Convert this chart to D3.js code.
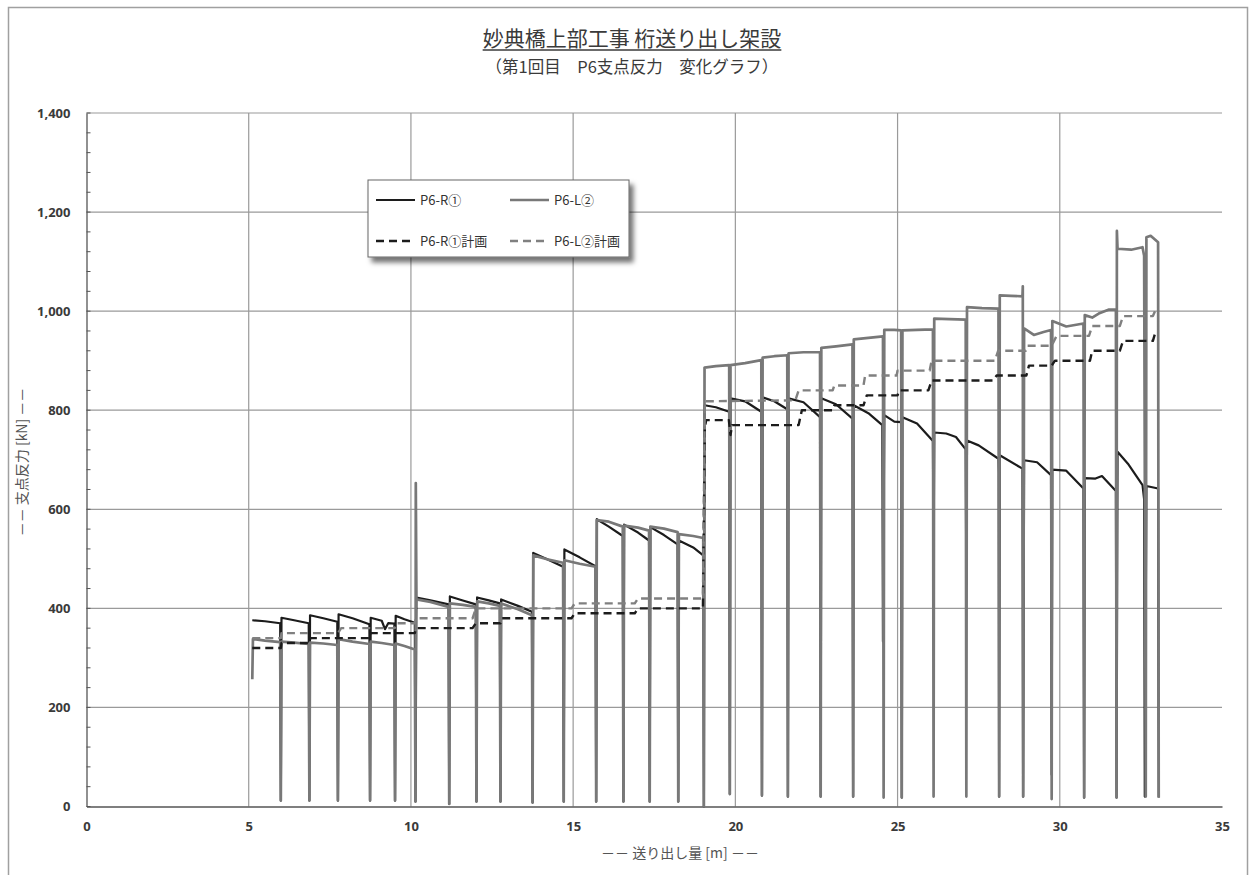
<!DOCTYPE html>
<html>
<head>
<meta charset="utf-8">
<script src="https://cdn.jsdelivr.net/npm/d3@7"></script>
<style>
  body { margin: 0; background: #fff; }
  svg { display: block; }
</style>
</head>
<body>
<svg id="svg" width="1250" height="875"></svg>
<script>
// titles / labels
const title = '妙典橋上部工事 桁送り出し架設'
const subtitle = '（第1回目　P6支点反力　変化グラフ）'
const xTitle = '－－ 送り出し量 [m] －－'
const yTitle = '－－ 支点反力 [kN] －－'
const xTicks = [0, 5, 10, 15, 20, 25, 30, 35]
const yTicks = [0, 200, 400, 600, 800, 1000, 1200, 1400]
const seriesNames = ['P6-R①', 'P6-L②', 'P6-R①計画', 'P6-L②計画']

// P6-R① measured [送り出し量 m, kN]
const r1 = [
  [5.11, 376], [5.5, 374], [5.97, 370], [5.99, 12],
  [6.01, 381], [6.4, 376], [6.85, 370], [6.87, 12],
  [6.89, 386], [7.3, 380], [7.73, 373], [7.75, 12],
  [7.77, 388], [8.2, 380], [8.72, 368], [8.74, 12],
  [8.76, 381], [9.1, 375], [9.2, 358], [9.3, 370], [9.49, 369], [9.51, 12],
  [9.53, 385], [9.8, 378], [10.12, 371], [10.14, 10],
  [10.17, 422], [10.6, 416], [11.16, 408], [11.18, 5],
  [11.2, 424], [11.6, 416], [12.0, 408], [12.02, 10],
  [12.04, 422], [12.4, 416], [12.74, 410], [12.76, 10],
  [12.78, 418], [13.3, 405], [13.73, 393], [13.75, 8],
  [13.77, 512], [14.2, 499], [14.69, 484], [14.71, 10],
  [14.73, 519], [15.2, 503], [15.69, 485], [15.71, 10],
  [15.73, 580], [16.1, 565], [16.53, 546], [16.55, 10],
  [16.57, 569], [17.0, 553], [17.34, 537], [17.36, 10],
  [17.38, 564], [17.8, 548], [18.22, 529], [18.24, 10],
  [18.26, 537], [18.7, 523], [19.01, 507], [19.03, 0],
  [19.05, 810], [19.4, 806], [19.81, 797], [19.83, 25],
  [19.85, 824], [20.3, 818], [20.8, 797], [20.82, 22],
  [20.84, 826], [21.2, 818], [21.6, 802], [21.62, 20],
  [21.64, 824], [22.1, 816], [22.61, 786], [22.63, 20],
  [22.65, 824], [23.1, 812], [23.61, 783], [23.63, 20],
  [23.65, 810], [24.1, 794], [24.53, 770], [24.55, 333],
  [24.59, 790], [24.9, 777], [25.11, 776], [25.13, 18],
  [25.15, 786], [25.6, 773], [26.09, 738], [26.11, 484],
  [26.13, 755], [26.5, 753], [26.8, 746], [27.1, 721], [27.12, 448],
  [27.14, 739], [27.5, 729], [28.11, 702], [28.12, 675], [28.13, 20],
  [28.15, 709], [28.85, 682], [28.87, 20],
  [28.9, 699], [29.3, 695], [29.73, 669], [29.75, 64],
  [29.77, 680], [30.2, 678], [30.73, 642], [30.75, 18],
  [30.77, 663], [31.1, 662], [31.3, 667], [31.73, 637], [31.75, 18],
  [31.78, 716], [32.1, 692], [32.55, 649], [32.6, 620], [32.62, 20],
  [32.67, 647], [33.03, 642], [33.05, 18]
]

// P6-L② measured
const l2 = [
  [5.11, 257], [5.13, 338], [5.5, 335], [5.97, 332], [5.99, 12],
  [6.01, 333], [6.4, 331], [6.85, 328], [6.87, 12],
  [6.89, 331], [7.3, 329], [7.73, 326], [7.75, 12],
  [7.77, 338], [8.2, 333], [8.72, 328], [8.74, 12],
  [8.76, 333], [9.1, 330], [9.49, 326], [9.51, 12],
  [9.53, 329], [9.8, 324], [10.12, 317], [10.14, 10], [10.15, 653], [10.17, 418],
  [10.6, 413], [11.16, 403], [11.18, 5],
  [11.2, 410], [11.6, 407], [12.0, 403], [12.02, 10],
  [12.04, 414], [12.4, 410], [12.74, 405], [12.76, 10],
  [12.78, 410], [13.3, 398], [13.73, 386], [13.75, 8],
  [13.77, 507], [14.2, 499], [14.69, 492], [14.71, 10],
  [14.73, 497], [15.2, 490], [15.69, 484], [15.71, 10],
  [15.73, 578], [16.1, 575], [16.53, 565], [16.55, 10],
  [16.57, 567], [17.0, 563], [17.34, 557], [17.36, 10],
  [17.38, 565], [17.8, 561], [18.22, 554], [18.24, 10],
  [18.26, 550], [18.7, 546], [19.01, 542], [19.03, 0],
  [19.05, 886], [19.4, 889], [19.81, 891], [19.83, 25],
  [19.85, 891], [20.3, 895], [20.8, 901], [20.82, 22],
  [20.84, 906], [21.2, 909], [21.6, 911], [21.62, 20],
  [21.64, 915], [22.1, 917], [22.61, 917], [22.63, 20],
  [22.65, 926], [23.1, 929], [23.61, 933], [23.63, 20],
  [23.65, 943], [24.1, 946], [24.55, 949], [24.57, 18],
  [24.59, 962], [24.9, 962], [25.11, 961], [25.13, 18],
  [25.15, 961], [25.6, 962], [26.09, 963], [26.11, 20],
  [26.13, 985], [26.6, 984], [27.1, 983], [27.12, 20],
  [27.14, 1008], [27.6, 1006], [28.11, 1005], [28.13, 20],
  [28.15, 1032], [28.5, 1031], [28.85, 1030], [28.86, 1050], [28.87, 20],
  [28.9, 965], [29.2, 952], [29.5, 958], [29.73, 962], [29.75, 15],
  [29.77, 980], [30.2, 969], [30.73, 975], [30.75, 18],
  [30.77, 992], [31.0, 987], [31.2, 995], [31.5, 1003], [31.73, 1003], [31.75, 18],
  [31.76, 1162], [31.78, 1126], [32.2, 1124], [32.55, 1129], [32.6, 1112], [32.63, 470],
  [32.65, 20], [32.67, 1149], [32.8, 1152], [33.03, 1139], [33.05, 18]
]

// P6-R① plan
const r1Plan = [
  [5.11, 320], [5.99, 320], [6.01, 330], [6.87, 330], [6.9, 340], [8.74, 340],
  [8.77, 350], [10.12, 350], [10.15, 360], [11.9, 360], [12.0, 370], [12.76, 370],
  [12.8, 380], [14.95, 380], [15.05, 390], [16.9, 390], [17.0, 400], [19.0, 400],
  [19.06, 765], [19.1, 780], [19.8, 780], [19.85, 750], [19.9, 770], [21.95, 770],
  [22.05, 800], [23.0, 800], [23.05, 810], [23.95, 810], [24.05, 830], [25.0, 830],
  [25.05, 840], [25.95, 840], [26.05, 860], [27.95, 860], [28.05, 870], [28.97, 870],
  [29.05, 890], [29.75, 890], [29.85, 900], [30.93, 900], [31.0, 920], [31.85, 920],
  [31.95, 940], [32.87, 940], [32.95, 958]
]

// P6-L② plan
const l2Plan = [
  [5.11, 340], [5.99, 340], [6.01, 350], [7.75, 350], [7.85, 360], [9.5, 360],
  [9.55, 370], [10.12, 370], [10.15, 380], [11.9, 380], [12.0, 400], [14.95, 400],
  [15.05, 410], [16.9, 410], [17.0, 420], [19.0, 420], [19.06, 818], [21.85, 820],
  [21.95, 840], [23.0, 840], [23.05, 850], [23.95, 850], [24.0, 870], [24.97, 870],
  [25.0, 880], [25.99, 880], [26.05, 900], [28.0, 900], [28.1, 920], [28.95, 920],
  [29.0, 930], [29.75, 930], [29.9, 950], [30.9, 950], [31.0, 970], [31.85, 970],
  [31.95, 990], [32.87, 990], [32.95, 1002]
]

const svg = d3.select('#svg')
const font = '"Noto Sans CJK JP", "Noto Sans", sans-serif'

// outer frame
svg.append('rect')
  .attr('x', 8.5).attr('y', 7.5).attr('width', 1239).attr('height', 880)
  .attr('fill', 'none').attr('stroke', '#a0a0a0').attr('stroke-width', 1.5)

const xScale = d3.scaleLinear().domain([0, 35]).range([86.5, 1222])
const yScale = d3.scaleLinear().domain([0, 1400]).range([806.5, 113])

// gridlines
const grid = svg.append('g')
grid.selectAll('.hg').data(yTicks.filter(d => d > 0)).enter().append('line')
  .attr('x1', xScale(0)).attr('x2', xScale(35))
  .attr('y1', d => yScale(d)).attr('y2', d => yScale(d))
  .attr('stroke', '#9a9a9a').attr('stroke-width', 1.2)
grid.selectAll('.vg').data(xTicks.filter(d => d > 0 && d < 35)).enter().append('line')
  .attr('x1', d => xScale(d)).attr('x2', d => xScale(d))
  .attr('y1', yScale(0)).attr('y2', yScale(1400))
  .attr('stroke', '#9a9a9a').attr('stroke-width', 1.2)

// axes
const yAxis = svg.append('g')
  .attr('transform', `translate(${xScale(0)},0)`)
  .call(d3.axisLeft(yScale).tickValues(yTicks).tickFormat(d3.format(',')).tickSize(0).tickPadding(16))
yAxis.select('.domain').attr('stroke', '#555').attr('stroke-width', 1.3)
yAxis.selectAll('text').attr('font-family', '"Noto Sans", sans-serif').attr('font-size', 13)
  .attr('font-weight', 'bold').attr('fill', '#3a3a3a')

// minor ticks on y axis (inside)
svg.append('g').selectAll('line').data(d3.range(0, 1401, 40)).enter().append('line')
  .attr('x1', xScale(0)).attr('x2', xScale(0) + 4)
  .attr('y1', d => yScale(d)).attr('y2', d => yScale(d))
  .attr('stroke', '#555').attr('stroke-width', 1)

const xAxis = svg.append('g')
  .attr('transform', `translate(0,${yScale(0)})`)
  .call(d3.axisBottom(xScale).tickValues(xTicks).tickSize(0).tickPadding(15))
xAxis.select('.domain').attr('stroke', '#555').attr('stroke-width', 1.3)
xAxis.selectAll('text').attr('font-family', '"Noto Sans", sans-serif').attr('font-size', 13)
  .attr('font-weight', 'bold').attr('fill', '#3a3a3a')

// series
const line = d3.line().x(d => xScale(d[0])).y(d => yScale(d[1]))
const series = [
  { data: r1, color: '#1c1c1c', width: 2.2, dash: null },
  { data: l2, color: '#787878', width: 2.7, dash: null },
  { data: r1Plan, color: '#1c1c1c', width: 2.4, dash: '8,5' },
  { data: l2Plan, color: '#808080', width: 2.4, dash: '8,5' }
]
svg.append('g').selectAll('path').data(series).enter().append('path')
  .attr('d', d => line(d.data))
  .attr('fill', 'none')
  .attr('stroke', d => d.color)
  .attr('stroke-width', d => d.width)
  .attr('stroke-dasharray', d => d.dash)
  .attr('stroke-linejoin', 'round')

// title
const t = svg.append('text')
  .attr('x', 632).attr('y', 46)
  .attr('text-anchor', 'middle')
  .attr('font-family', font).attr('font-size', 21).attr('fill', '#3a3a3a')
  .text(title)
const bb = t.node().getBBox()
svg.append('line')
  .attr('x1', bb.x).attr('x2', bb.x + bb.width)
  .attr('y1', 50).attr('y2', 50)
  .attr('stroke', '#3a3a3a').attr('stroke-width', 1.3)
svg.append('text')
  .attr('x', 632).attr('y', 73)
  .attr('text-anchor', 'middle')
  .attr('font-family', font).attr('font-size', 16.5).attr('fill', '#3a3a3a')
  .text(subtitle)

// axis titles
svg.append('text')
  .attr('x', 680).attr('y', 858)
  .attr('text-anchor', 'middle')
  .attr('font-family', font).attr('font-size', 14).attr('fill', '#555')
  .text(xTitle)
svg.append('text')
  .attr('transform', 'translate(27,462) rotate(-90)')
  .attr('text-anchor', 'middle')
  .attr('font-family', font).attr('font-size', 14).attr('fill', '#555')
  .text(yTitle)

// legend
const defs = svg.append('defs')
const f = defs.append('filter').attr('id', 'shadow').attr('x', '-10%').attr('y', '-10%').attr('width', '130%').attr('height', '140%')
f.append('feDropShadow').attr('dx', 4).attr('dy', 5).attr('stdDeviation', 2.5)
  .attr('flood-color', '#000').attr('flood-opacity', 0.55)

const lg = svg.append('g').attr('transform', 'translate(368,180)')
lg.append('rect').attr('width', 261).attr('height', 77)
  .attr('fill', '#fff').attr('stroke', '#666').attr('stroke-width', 1)
  .attr('filter', 'url(#shadow)')
const legendPos = [[8, 20], [142, 20], [8, 61], [142, 61]]
series.forEach((s, i) => {
  const [lx, ly] = legendPos[i]
  lg.append('line')
    .attr('x1', lx).attr('x2', lx + 39).attr('y1', ly).attr('y2', ly)
    .attr('stroke', s.color).attr('stroke-width', s.width)
    .attr('stroke-dasharray', s.dash)
  lg.append('text')
    .attr('x', lx + 44).attr('y', ly + 4.5)
    .attr('font-family', font).attr('font-size', 13).attr('fill', '#333')
    .text(seriesNames[i])
})
</script>
</body>
</html>
